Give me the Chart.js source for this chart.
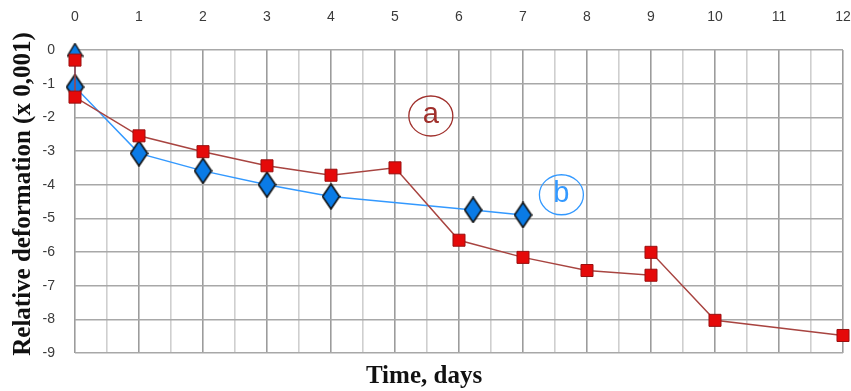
<!DOCTYPE html>
<html>
<head>
<meta charset="utf-8">
<script src="https://cdn.jsdelivr.net/npm/chart.js@4.4.1/dist/chart.umd.min.js"></script>
<style>
  html, body { margin: 0; padding: 0; background: #fff; }
  #wrap { width: 851px; height: 391px; position: relative; }
</style>
</head>
<body>
<div id="wrap"><canvas id="chart"></canvas></div>
<script>
// Curve a (red squares)
const daysA = [0, 0, 1, 2, 3, 4, 5, 6, 7, 8, 9, 9, 10, 12];
const deformA = [-0.3, -1.4, -2.55, -3.02, -3.44, -3.72, -3.5, -5.65, -6.16, -6.55, -6.69, -6.01, -8.03, -8.48];

// Curve b (blue diamonds)
const daysB = [0, 0, 1, 2, 3, 4, 6.22, 7];
const deformB = [0, -1.1, -3.07, -3.59, -4.0, -4.35, -4.75, -4.9];

const xTickValues = [0, 1, 2, 3, 4, 5, 6, 7, 8, 9, 10, 11, 12];
const yTickValues = [0, -1, -2, -3, -4, -5, -6, -7, -8, -9];

// curve labels: [text, x, y, colour]
const curveLabels = [
    ['a', 5.56, -1.96, '#a0302c'],
    ['b', 7.6, -4.3, '#3399ff']
];

function makeDiamond() {
    const c = document.createElement('canvas');
    c.width = 19; c.height = 27;
    const g = c.getContext('2d');
    g.beginPath();
    g.moveTo(9.5, 1); g.lineTo(18, 13.5); g.lineTo(9.5, 26); g.lineTo(1, 13.5);
    g.closePath();
    g.fillStyle = '#0a7be6';
    g.fill();
    g.lineWidth = 1.6;
    g.strokeStyle = '#111';
    g.stroke();
    return c;
}

function makeTriangle() {
    const c = document.createElement('canvas');
    c.width = 17; c.height = 15;
    const g = c.getContext('2d');
    g.beginPath();
    g.moveTo(8.5, 1); g.lineTo(16, 13.5); g.lineTo(1, 13.5);
    g.closePath();
    g.fillStyle = '#0a7be6';
    g.fill();
    g.lineWidth = 1.4;
    g.strokeStyle = '#111';
    g.stroke();
    return c;
}

const diamond = makeDiamond();
const triangle = makeTriangle();

const extras = {
    id: 'extras',
    afterDatasetsDraw(chart) {
        const ctx = chart.ctx;
        const xs = chart.scales.x, ys = chart.scales.y;
        ctx.save();
        curveLabels.forEach(l => {
            const px = xs.getPixelForValue(l[1]);
            const py = ys.getPixelForValue(l[2]);
            ctx.strokeStyle = l[3];
            ctx.lineWidth = 1.3;
            ctx.beginPath();
            ctx.ellipse(px, py, 22, 20, 0, 0, Math.PI * 2);
            ctx.stroke();
            ctx.fillStyle = l[3];
            ctx.font = '29px "Liberation Sans"';
            ctx.textAlign = 'center';
            ctx.textBaseline = 'middle';
            ctx.fillText(l[0], px, py - 1);
        });

        // axis titles
        ctx.fillStyle = '#111';
        ctx.font = 'bold 25px "Liberation Serif"';
        ctx.textAlign = 'center';
        ctx.textBaseline = 'middle';
        ctx.fillText('Time, days', 424, 377);
        ctx.translate(24, 194);
        ctx.rotate(-Math.PI / 2);
        ctx.fillText('Relative deformation (x 0,001)', 0, 0);
        ctx.restore();
    }
};

new Chart(document.getElementById('chart'), {
    type: 'scatter',
    data: {
        datasets: [
            {
                label: 'a',
                data: daysA.map((d, i) => ({ x: d, y: deformA[i] })),
                showLine: true,
                borderColor: '#a84440',
                borderWidth: 1.5,
                pointStyle: 'rect',
                pointRadius: 8.5,
                pointBackgroundColor: '#e50a0a',
                pointBorderColor: '#9a1010',
                pointBorderWidth: 1,
                clip: false,
                order: 1
            },
            {
                label: 'b',
                data: daysB.map((d, i) => ({ x: d, y: deformB[i] })),
                showLine: true,
                borderColor: '#3399ff',
                borderWidth: 1.5,
                pointStyle: daysB.map((d, i) => i === 0 ? triangle : diamond),
                pointRadius: 10,
                clip: false,
                order: 2
            }
        ]
    },
    options: {
        responsive: true,
        maintainAspectRatio: false,
        animation: false,
        layout: { autoPadding: false, padding: { top: 0, right: 8, bottom: 38, left: 0 } },
        plugins: {
            legend: { display: false },
            tooltip: { enabled: false }
        },
        scales: {
            x: {
                type: 'linear',
                position: 'top',
                min: 0,
                max: 12,
                afterFit(scale) {
                    scale.height = 50;
                    scale.paddingLeft = 0;
                    scale.paddingRight = 0;
                },
                afterBuildTicks(scale) {
                    const t = [];
                    for (let v = 0; v <= 24; v++) t.push({ value: v / 2 });
                    scale.ticks = t;
                },
                ticks: {
                    autoSkip: false,
                    maxRotation: 0,
                    padding: 24,
                    color: '#3a3a3a',
                    font: { family: 'Liberation Sans', size: 14 },
                    callback: v => xTickValues.includes(v) ? String(v) : ''
                },
                grid: {
                    drawTicks: false,
                    lineWidth: 1.6,
                    color: ctx => (ctx.tick && Number.isInteger(ctx.tick.value)) ? '#9c9c9c' : '#cfcfcf'
                },
                border: { display: false }
            },
            y: {
                min: -9,
                max: 0,
                afterFit(scale) { scale.width = 75; },
                afterBuildTicks(scale) {
                    scale.ticks = yTickValues.map(v => ({ value: v }));
                },
                ticks: {
                    padding: 20,
                    color: '#3a3a3a',
                    font: { family: 'Liberation Sans', size: 14 }
                },
                grid: {
                    drawTicks: false,
                    lineWidth: 1.6,
                    color: '#a8a8a8'
                },
                border: { display: false }
            }
        }
    },
    plugins: [extras]
});
</script>
</body>
</html>
